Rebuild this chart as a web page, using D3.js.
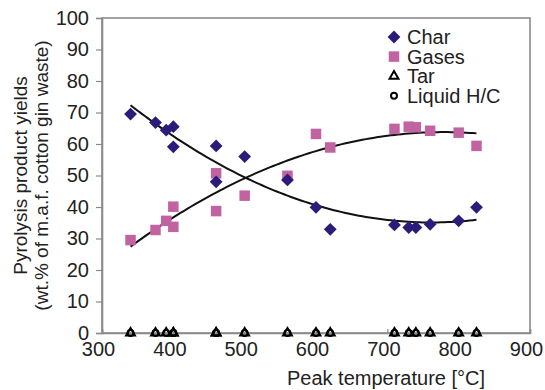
<!DOCTYPE html>
<html>
<head>
<meta charset="utf-8">
<script src="https://cdn.jsdelivr.net/npm/d3@7"></script>
<style>
  body { margin: 0; background: #fff; }
  svg text { font-family: "Liberation Sans", Arial, sans-serif; fill: #222; }
</style>
</head>
<body>
<div id="chart"></div>
<script>
// peak temperatures (°C) of each run
var temps = [340, 375, 390, 400, 400, 460, 460, 500, 560, 600, 620, 710, 730, 740, 760, 800, 825];
// yields, wt.% of m.a.f. cotton gin waste
var charVals = [69.5, 66.8, 64.4, 65.5, 59.1, 59.4, 48.0, 56.0, 48.6, 39.9, 32.9, 34.3, 33.5, 33.5, 34.5, 35.6, 39.9];
var gasVals = [29.5, 32.7, 35.6, 40.1, 33.7, 50.7, 38.7, 43.6, 49.9, 63.2, 58.9, 64.8, 65.5, 65.3, 64.2, 63.6, 59.4];
var tarVals = [0, 0, 0, 0, 0, 0, 0, 0, 0, 0, 0, 0, 0, 0, 0, 0, 0];
var liquidVals = [0, 0, 0, 0, 0, 0, 0, 0, 0, 0, 0, 0, 0, 0, 0, 0, 0];

var xTicks = [300, 400, 500, 600, 700, 800, 900];
var yTicks = [0, 10, 20, 30, 40, 50, 60, 70, 80, 90, 100];
var legendNames = ["Char", "Gases", "Tar", "Liquid H/C"];

var W = 545, H = 390;
var pLeft = 102, pRight = 530, pTop = 18, pBottom = 333;

var svg = d3.select("#chart").append("svg").attr("width", W).attr("height", H);

var x = d3.scaleLinear().domain([300, 900]).range([pLeft, pRight]);
var y = d3.scaleLinear().domain([0, 100]).range([pBottom, pTop]);

// frame
svg.append("rect")
  .attr("x", pLeft).attr("y", pTop)
  .attr("width", pRight - pLeft).attr("height", pBottom - pTop)
  .attr("fill", "none").attr("stroke", "#8a8a8a").attr("stroke-width", 1.6);

// axes
var yAxis = d3.axisLeft(y).tickValues(yTicks).tickSize(6).tickPadding(7);
var gy = svg.append("g").attr("transform", "translate(" + pLeft + ",0)").call(yAxis);
var xAxis = d3.axisBottom(x).tickValues(xTicks).tickSize(-4).tickPadding(6);
var gx = svg.append("g").attr("transform", "translate(0," + pBottom + ")").call(xAxis);
[gy, gx].forEach(function (g) {
  g.select(".domain").attr("stroke", "#8a8a8a").attr("stroke-width", 1.6);
  g.selectAll(".tick line").attr("stroke", "#8a8a8a").attr("stroke-width", 1.2);
  g.selectAll(".tick text").style("font-size", "20px").attr("fill", "#222");
});
gx.selectAll(".tick text").attr("dy", "0.85em").attr("x", -4);

// axis titles
svg.append("text")
  .attr("x", 386).attr("y", 385)
  .attr("text-anchor", "middle").style("font-size", "20px")
  .text("Peak temperature [°C]");
var yt = svg.append("text")
  .attr("transform", "translate(27," + ((pTop + pBottom) / 2) + ") rotate(-90)")
  .attr("text-anchor", "middle").style("font-size", "19px");
yt.append("tspan").attr("x", 0).attr("dy", 0).text("Pyrolysis product yields");
yt.append("tspan").attr("x", 0).attr("dy", 21).text("(wt.% of m.a.f. cotton gin waste)");

// quadratic least squares trend
function quadFit(xs, ys) {
  var m = d3.mean(xs);
  var s = [0, 0, 0, 0, 0], t = [0, 0, 0];
  xs.forEach(function (xv, i) {
    var u = xv - m, p = 1;
    for (var k = 0; k < 5; k++) { s[k] += p; if (k < 3) t[k] += p * ys[i]; p *= u; }
  });
  var A = [[s[0], s[1], s[2], t[0]], [s[1], s[2], s[3], t[1]], [s[2], s[3], s[4], t[2]]];
  for (var i = 0; i < 3; i++) {
    for (var r = i + 1; r < 3; r++) {
      var f = A[r][i] / A[i][i];
      for (var c = i; c < 4; c++) A[r][c] -= f * A[i][c];
    }
  }
  var b = [0, 0, 0];
  for (var i2 = 2; i2 >= 0; i2--) {
    var v = A[i2][3];
    for (var c2 = i2 + 1; c2 < 3; c2++) v -= A[i2][c2] * b[c2];
    b[i2] = v / A[i2][i2];
  }
  return function (xv) { var u = xv - m; return b[0] + b[1] * u + b[2] * u * u; };
}

var xs = d3.range(d3.min(temps), d3.max(temps) + 0.1, 5);
var line = d3.line().x(function (d) { return x(d[0]); }).y(function (d) { return y(d[1]); });
[charVals, gasVals].forEach(function (vals) {
  var f = quadFit(temps, vals);
  svg.append("path")
    .attr("d", line(xs.map(function (t) { return [t, f(t)]; })))
    .attr("fill", "none").attr("stroke", "#111").attr("stroke-width", 2);
});

var charColor = "#2c1c7a", gasColor = "#c063a0";
var diamond = d3.symbol().type(d3.symbolDiamond2).size(105);
var square = d3.symbol().type(d3.symbolSquare).size(110);
var tri = d3.symbol().type(d3.symbolTriangle).size(34);
var circ = d3.symbol().type(d3.symbolCircle).size(28);

function plot(vals, sym, fill, stroke, sw) {
  svg.append("g").selectAll("path").data(vals).join("path")
    .attr("d", sym)
    .attr("transform", function (d, i) { return "translate(" + x(temps[i]) + "," + y(d) + ")"; })
    .attr("fill", fill).attr("stroke", stroke).attr("stroke-width", sw);
}
plot(liquidVals, circ, "none", "#000", 2);
plot(tarVals, tri, "none", "#000", 2);
plot(gasVals, square, gasColor, "none", 0);
plot(charVals, diamond, charColor, "none", 0);

// legend
var legSyms = [
  { s: diamond, fill: charColor, stroke: "none" },
  { s: square, fill: gasColor, stroke: "none" },
  { s: tri, fill: "none", stroke: "#000" },
  { s: circ, fill: "none", stroke: "#000" }
];
var leg = svg.append("g").attr("transform", "translate(394,37)");
legendNames.forEach(function (n, i) {
  var gi = leg.append("g").attr("transform", "translate(0," + (i * 19.6) + ")");
  gi.append("path").attr("d", legSyms[i].s)
    .attr("fill", legSyms[i].fill).attr("stroke", legSyms[i].stroke).attr("stroke-width", 2);
  gi.append("text").attr("x", 13).attr("dy", "0.36em").style("font-size", "20px").text(n);
});
</script>
</body>
</html>
